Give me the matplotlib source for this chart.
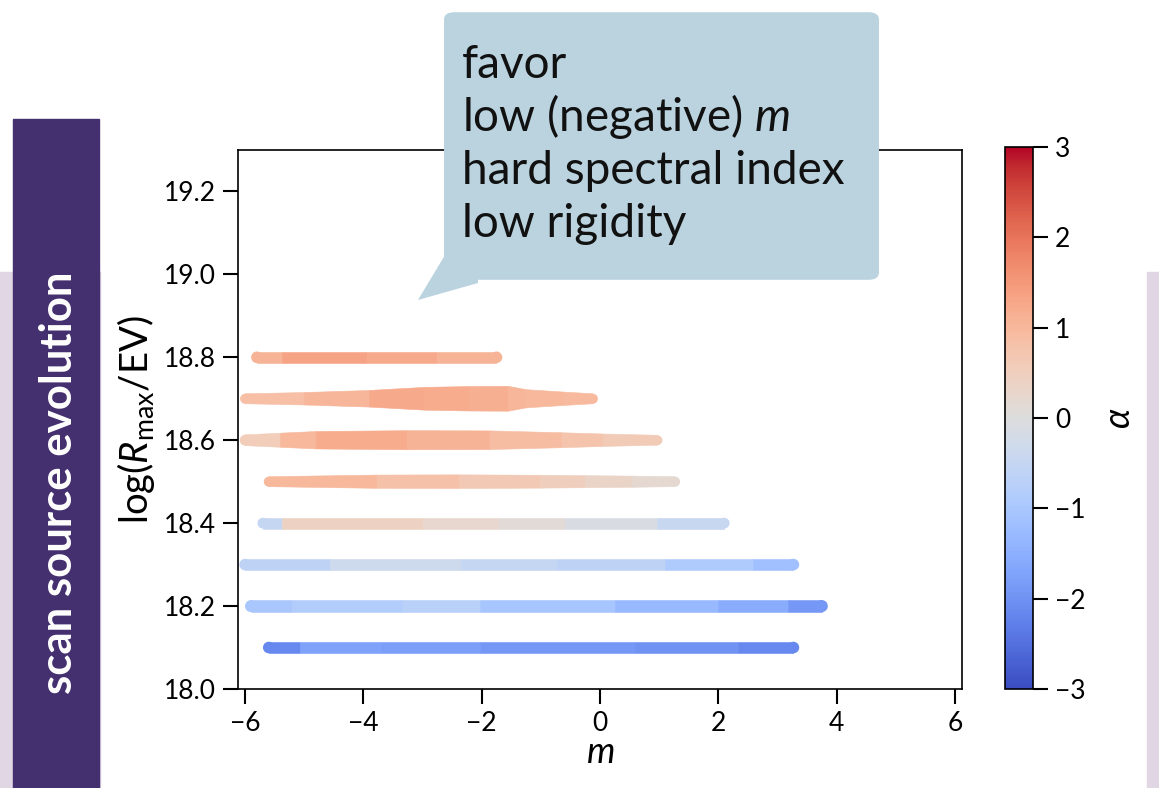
import numpy as np
import matplotlib
matplotlib.use('Agg')
import matplotlib.pyplot as plt
from matplotlib.collections import PolyCollection
from matplotlib.patches import Rectangle, FancyBboxPatch, Polygon, Ellipse

plt.rcParams['font.family'] = ['Lato', 'DejaVu Sans']
plt.rcParams['mathtext.fontset'] = 'custom'
plt.rcParams['mathtext.rm'] = 'Lato'
plt.rcParams['mathtext.it'] = 'Lato:italic'

# scan rows: log(Rmax/EV) level, m segment edges, fitted alpha per segment,
# band spread in log(Rmax/EV) at each edge
levels = [18.8, 18.7, 18.6, 18.5, 18.4, 18.3, 18.2, 18.1]
m_edges = [
    [-5.8, -5.37, -3.94, -2.75, -1.75],
    [-6.0, -5.0, -3.9, -2.96, -2.2, -1.55, -1.25, -0.6, -0.12],
    [-6.0, -5.4, -4.8, -3.26, -1.86, -0.64, 0.05, 0.97],
    [-5.6, -3.77, -2.37, -1.0, -0.25, 0.55, 1.27],
    [-5.7, -5.37, -3.0, -1.7, -0.6, 0.96, 2.1],
    [-6.0, -4.56, -2.35, -0.73, 1.1, 2.58, 3.27],
    [-5.9, -5.2, -3.33, -2.03, 0.25, 2.0, 3.18, 3.75],
    [-5.6, -5.08, -3.72, -2.03, 0.57, 2.33, 3.27],
]
alpha_vals = [
    [1.1, 1.35, 1.25, 1.1],
    [0.85, 1.05, 1.25, 1.2, 1.15, 1.05, 1.0, 0.95],
    [0.55, 1.0, 1.2, 1.1, 0.9, 0.75, 0.6],
    [1.0, 0.8, 0.65, 0.5, 0.35, 0.2],
    [-0.5, 0.4, 0.25, 0.1, -0.1, -0.45],
    [-0.65, -0.35, -0.5, -0.65, -0.9, -1.15],
    [-1.0, -0.85, -0.75, -1.05, -1.3, -1.55, -1.9],
    [-2.15, -1.75, -1.8, -1.9, -2.0, -2.15],
]
spread = [
    [0.028, 0.028, 0.028, 0.028, 0.028],
    [0.024, 0.030, 0.040, 0.055, 0.059, 0.060, 0.044, 0.032, 0.024],
    [0.026, 0.034, 0.042, 0.046, 0.045, 0.036, 0.030, 0.024],
    [0.024, 0.032, 0.033, 0.031, 0.029, 0.027, 0.024],
    [0.026, 0.026, 0.026, 0.026, 0.026, 0.026, 0.026],
    [0.028, 0.028, 0.028, 0.028, 0.028, 0.028, 0.028],
    [0.029, 0.029, 0.029, 0.029, 0.029, 0.029, 0.029, 0.029],
    [0.028, 0.028, 0.028, 0.028, 0.028, 0.028, 0.028],
]
m_ticks = [-6, -4, -2, 0, 2, 4, 6]
r_ticks = [18.0, 18.2, 18.4, 18.6, 18.8, 19.0, 19.2]
cb_ticks = [-3, -2, -1, 0, 1, 2, 3]
note_lines = ['favor', 'low (negative) $m$', 'hard spectral index', 'low rigidity']

W, H = 1159, 788
fig = plt.figure(figsize=(W / 100, H / 100), dpi=100)


def fx(px):
    return px / W


def fy(py):
    return 1 - py / H


# slide decoration
fig.patches.append(Rectangle((0, 0), fx(100), fy(272), transform=fig.transFigure,
                             color='#e0d6e4', zorder=-5))
fig.patches.append(Rectangle((fx(1147), 0), fx(12), fy(272), transform=fig.transFigure,
                             color='#e0d6e4', zorder=-5))
fig.patches.append(Rectangle((fx(13), 0), fx(86), fy(119), transform=fig.transFigure,
                             color='#45306f', zorder=-4))
fig.text(fx(59), fy(483), 'scan source evolution', rotation=90, color='white',
         fontsize=31.5, fontweight='bold', ha='center', va='center')

ax = fig.add_axes([fx(238), fy(689), fx(962 - 238), (689 - 150) / H])
cmap = plt.get_cmap('coolwarm')
norm = matplotlib.colors.Normalize(vmin=-3, vmax=3)
xlim = (-6.12, 6.12)
ylim = (18.0, 19.3)
# data-units aspect so the row ends come out round
aspect = ((962 - 238) / (xlim[1] - xlim[0])) / ((689 - 150) / (ylim[1] - ylim[0]))

for y, edges, avals, sp in zip(levels, m_edges, alpha_vals, spread):
    cols = cmap(norm(np.array(avals)))
    verts = []
    for i in range(len(avals)):
        verts.append([(edges[i], y - sp[i] / 2), (edges[i + 1], y - sp[i + 1] / 2),
                      (edges[i + 1], y + sp[i + 1] / 2), (edges[i], y + sp[i] / 2)])
    ax.add_collection(PolyCollection(verts, facecolors=cols, edgecolors=cols, linewidths=0.4))
    ax.add_patch(Ellipse((edges[0], y), sp[0] / aspect, sp[0], color=cols[0], lw=0))
    ax.add_patch(Ellipse((edges[-1], y), sp[-1] / aspect, sp[-1], color=cols[-1], lw=0))

ax.set_xlim(*xlim)
ax.set_ylim(*ylim)
ax.set_xticks(m_ticks)
ax.set_yticks(r_ticks)
ax.set_yticklabels([f'{v:.1f}' for v in r_ticks])
ax.tick_params(direction='out', length=11, width=1.5, labelsize=19, pad=5)
for s in ax.spines.values():
    s.set_linewidth(1.2)
ax.set_xlabel('$m$', fontsize=26, labelpad=0)
ax.set_ylabel(r'$\log(R_{\rm max}/{\rm EV})$', fontsize=27.5, labelpad=5)

cax = fig.add_axes([fx(1005), fy(689), fx(28), (689 - 147) / H])
sm = matplotlib.cm.ScalarMappable(norm=norm, cmap=cmap)
cb = fig.colorbar(sm, cax=cax, ticks=cb_ticks)
cb.outline.set_linewidth(1.2)
cax.tick_params(direction='out', length=11, width=1.5, labelsize=19, pad=5)
cb.set_label(r'$\alpha$', fontsize=26, labelpad=12)

# speech bubble
fig.patches.append(FancyBboxPatch((fx(454), fy(273)), fx(879 - 464), (273 - 19) / H,
                                  boxstyle='round,pad=0.0086,rounding_size=0.009',
                                  transform=fig.transFigure, facecolor='#bad3df',
                                  edgecolor='none', zorder=5))
fig.patches.append(Polygon([(fx(445), fy(255)), (fx(418), fy(300)), (fx(478), fy(283)),
                            (fx(478), fy(255))], closed=True, transform=fig.transFigure,
                           facecolor='#bad3df', edgecolor='none', zorder=5))
for i, line in enumerate(note_lines):
    fig.text(fx(462), fy(78 + 53 * i), line, fontsize=33, color='#111111',
             ha='left', va='baseline', zorder=6)

fig.savefig('out.png', dpi=100)
